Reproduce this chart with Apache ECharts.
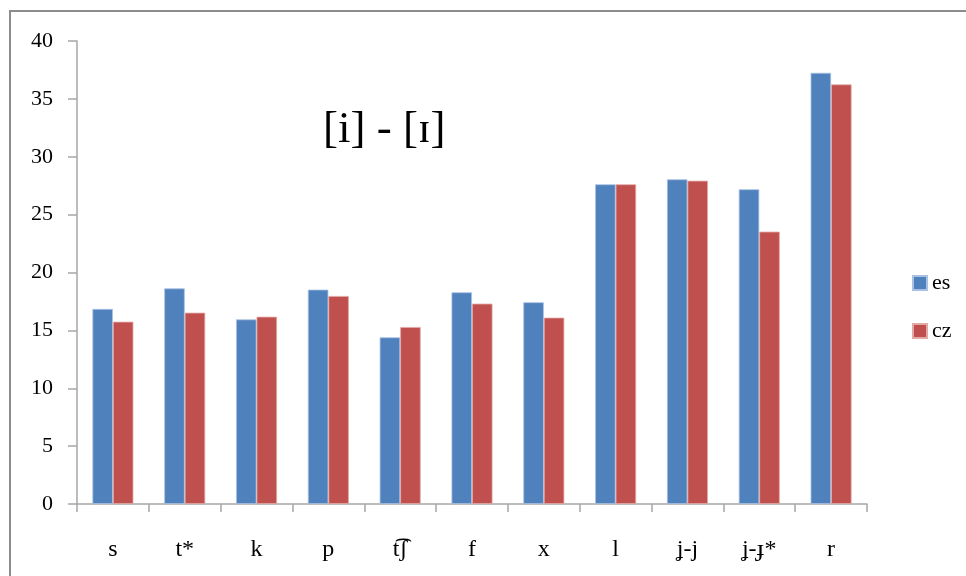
<!DOCTYPE html>
<html>
<head>
<meta charset="utf-8">
<script src="https://cdn.jsdelivr.net/npm/echarts@6/dist/echarts.min.js"></script>
<style>
  html, body { margin: 0; padding: 0; background: #fff; }
  #chart { width: 966px; height: 576px; }
</style>
</head>
<body>
<div id="chart"></div>
<script>
// Consonant contexts on the x axis
const categories = ['s', 't*', 'k', 'p', 't\u0361\u0283', 'f', 'x', 'l', '\u029D-j', '\u029D-\u025F*', 'r'];
// Series values
const esValues = [16.85, 18.63, 15.95, 18.52, 14.40, 18.29, 17.43, 27.62, 28.05, 27.19, 37.25];
const czValues = [15.75, 16.53, 16.18, 17.97, 15.29, 17.31, 16.10, 27.62, 27.93, 23.53, 36.25];
// Value axis ticks
const yMin = 0, yMax = 40, yStep = 5;

const chart = echarts.init(document.getElementById('chart'), null, { renderer: 'canvas' });
const serif = '"Liberation Serif", "DejaVu Serif", serif';
const axisGray = '#a6a6a6';

chart.setOption({
  animation: false,
  backgroundColor: '#ffffff',
  textStyle: { fontFamily: serif },
  grid: { left: 77, right: 99, top: 41, bottom: 72, containLabel: false },
  legend: {
    orient: 'vertical',
    left: 907,
    top: 267,
    itemWidth: 14,
    itemHeight: 14,
    itemGap: 26,
    icon: 'rect',
    textStyle: { fontFamily: serif, fontSize: 22, color: '#000' },
    data: ['es', 'cz']
  },
  xAxis: {
    type: 'category',
    data: categories,
    axisLine: { lineStyle: { color: axisGray, width: 1.5 } },
    axisTick: { show: true, length: 8, inside: false, alignWithLabel: false, lineStyle: { color: axisGray, width: 1.5 } },
    axisLabel: { fontFamily: serif, fontSize: 24, color: '#000', margin: 34 }
  },
  yAxis: {
    type: 'value',
    min: yMin,
    max: yMax,
    interval: yStep,
    axisLine: { show: true, lineStyle: { color: axisGray, width: 1.5 } },
    axisTick: { show: true, length: 9, lineStyle: { color: axisGray, width: 1.5 } },
    splitLine: { show: false },
    axisLabel: { fontFamily: serif, fontSize: 22, color: '#000', margin: 24 }
  },
  series: [
    {
      name: 'es',
      type: 'bar',
      data: esValues,
      barWidth: 20.5,
      barGap: '0%',
      itemStyle: { color: '#4F81BD', borderColor: '#a9c2e3', borderWidth: 0.8 }
    },
    {
      name: 'cz',
      type: 'bar',
      data: czValues,
      barWidth: 20.5,
      barGap: '0%',
      itemStyle: { color: '#C0504D', borderColor: '#e3a9a7', borderWidth: 0.8 }
    }
  ],
  graphic: [
    {
      type: 'rect',
      silent: true,
      shape: { x: 10, y: 11, width: 1000, height: 600 },
      style: { fill: 'none', stroke: '#8c8c8c', lineWidth: 2 }
    },
    {
      type: 'text',
      silent: true,
      left: 323,
      top: 108,
      style: { text: '[i] - [\u026A]', font: '45px ' + serif, fill: '#000' }
    }
  ]
});
</script>
</body>
</html>
